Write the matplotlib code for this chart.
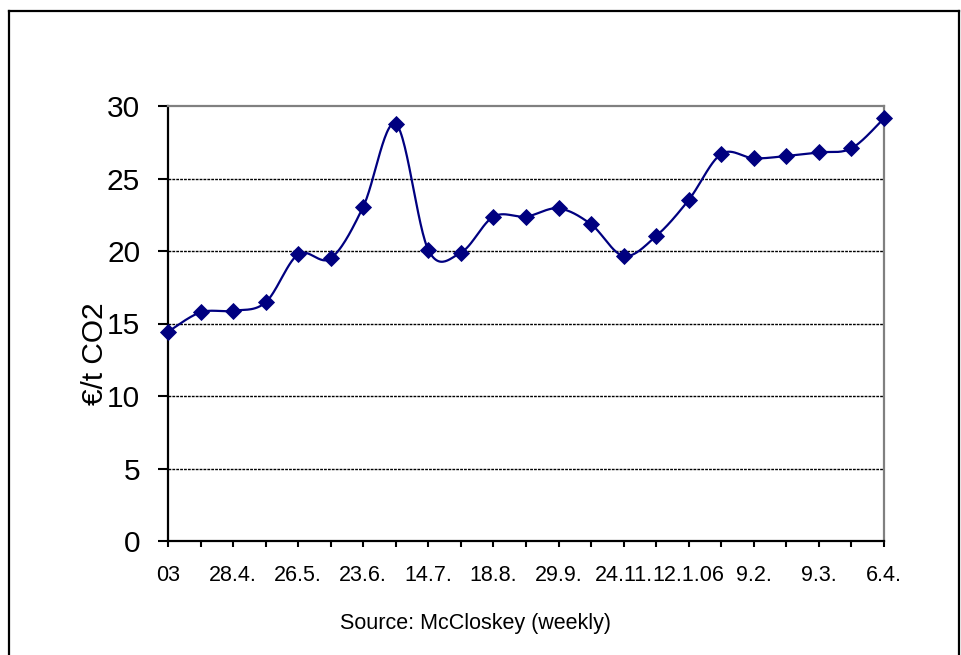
import numpy as np
import matplotlib
matplotlib.use("Agg")
import matplotlib.pyplot as plt
from matplotlib.lines import Line2D

plt.rcParams['font.family'] = ['Liberation Sans', 'DejaVu Sans']

# Weekly CO2 allowance prices (EUR per tonne)
prices = [14.43, 15.77, 15.88, 16.46, 19.77, 19.49, 23.06, 28.76, 20.07, 19.89,
          22.37, 22.37, 22.94, 21.84, 19.66, 21.03, 23.52, 26.69, 26.39, 26.55,
          26.80, 27.08, 29.15]
# Date labels shown on every second week
date_labels = ['03', '28.4.', '26.5.', '23.6.', '14.7.', '18.8.', '29.9.',
               '24.11.', '12.1.06', '9.2.', '9.3.', '6.4.']
label_step = 2
y_ticks = [0, 5, 10, 15, 20, 25, 30]
y_title = '€/t CO2'
source_note = 'Source: McCloskey (weekly)'

W, H = 961, 655
fig = plt.figure(figsize=(W / 100, H / 100), dpi=100)
fig.patch.set_facecolor('white')

left, right, bottom, top = 168, 884, 541, 106
ax = fig.add_axes([left / W, 1 - bottom / H, (right - left) / W, (bottom - top) / H])

x = np.arange(len(prices), dtype=float)
y = np.asarray(prices, dtype=float)


def smooth_curve(xs, ys, n=30):
    """Cubic Bezier smoothing through every point (Catmull-Rom style)."""
    px = np.concatenate([[xs[0]], xs, [xs[-1]]])
    py = np.concatenate([[ys[0]], ys, [ys[-1]]])
    out_x, out_y = [], []
    t = np.linspace(0, 1, n)
    for i in range(1, len(px) - 2):
        p0x, p0y = px[i], py[i]
        p3x, p3y = px[i + 1], py[i + 1]
        c1x = p0x + (px[i + 1] - px[i - 1]) / 6
        c1y = p0y + (py[i + 1] - py[i - 1]) / 6
        c2x = p3x - (px[i + 2] - px[i]) / 6
        c2y = p3y - (py[i + 2] - py[i]) / 6
        bx = ((1 - t) ** 3) * p0x + 3 * ((1 - t) ** 2) * t * c1x + 3 * (1 - t) * t ** 2 * c2x + t ** 3 * p3x
        by = ((1 - t) ** 3) * p0y + 3 * ((1 - t) ** 2) * t * c1y + 3 * (1 - t) * t ** 2 * c2y + t ** 3 * p3y
        out_x.extend(bx)
        out_y.extend(by)
    return np.array(out_x), np.array(out_y)


navy = '#000080'
sx, sy = smooth_curve(x, y)
ax.plot(sx, sy, color=navy, lw=1.6, zorder=3, clip_on=False)
ax.plot(x, y, linestyle='none', marker='D', ms=8.2, color=navy,
        mec=navy, mew=0.6, zorder=4, clip_on=False)

ax.set_xlim(0, len(prices) - 1)
ax.set_ylim(0, 30)

# horizontal gridlines
for v in y_ticks[1:-1]:
    ax.axhline(v, color='black', lw=1.0, ls=(0, (2.0, 0.8)), zorder=1)

ax.set_yticks(y_ticks)
ax.set_yticklabels([str(v) for v in y_ticks], fontsize=21.5)
tick_text = [''] * len(prices)
for k, lab in enumerate(date_labels):
    tick_text[k * label_step] = lab
ax.set_xticks(x)
ax.set_xticklabels(tick_text, fontsize=15.5)

ax.tick_params(axis='y', length=7, width=1.5, pad=13, colors='black')
ax.tick_params(axis='x', length=4.5, width=1.5, pad=13, colors='black')

for side in ('left', 'bottom'):
    ax.spines[side].set_color('black')
    ax.spines[side].set_linewidth(1.6)
for side in ('top', 'right'):
    ax.spines[side].set_color('#808080')
    ax.spines[side].set_linewidth(1.6)
ax.set_facecolor('white')

fig.text(95 / W, 1 - 354 / H, y_title, rotation=90, fontsize=21.5,
         ha='center', va='center')
fig.text(475 / W, 1 - 623 / H, source_note, fontsize=15.5,
         ha='center', va='center')

# outer frame
bx0, bx1, by0 = 8.5 / W, 959 / W, 1 - 10.5 / H
for xs_, ys_ in (([bx0, bx0], [0, by0]), ([bx0, bx1], [by0, by0]), ([bx1, bx1], [by0, 0])):
    fig.add_artist(Line2D(xs_, ys_, transform=fig.transFigure, color='black', lw=1.6))

fig.savefig('out.png', dpi=100, facecolor='white')
